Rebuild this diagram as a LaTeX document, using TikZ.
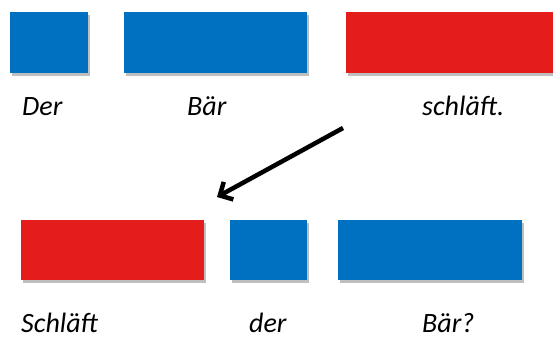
\documentclass[tikz,border=0pt]{standalone}
\usepackage{fontspec}
\setmainfont{Carlito}
\usetikzlibrary{arrows.meta, shadows}
\definecolor{wordblue}{HTML}{0070C0}
\definecolor{wordred}{HTML}{E41C1C}

\tikzset{
  wordbox/.style={draw=none, inner sep=0pt, anchor=north west,
    minimum height=61pt,
    drop shadow={shadow xshift=1.5pt, shadow yshift=-2.5pt, opacity=0.25, fill=black}},
  wordlabel/.style={inner sep=0pt, anchor=base west, font=\fontsize{28}{34}\selectfont\itshape}
}

\begin{document}
\begin{tikzpicture}[x=1pt, y=-1pt]

\useasboundingbox (0,0) rectangle (553,338);

%% Top row: statement
\node[wordbox, fill=wordblue, minimum width=78pt] (derTop) at (10,12) {};
\node[wordbox, fill=wordblue, minimum width=183pt] (baerTop) at (124,12) {};
\node[wordbox, fill=wordred, minimum width=207pt] (schlaeftTop) at (346,12) {};

\node[wordlabel] (derTopLabel) at (22,115) {Der};
\node[wordlabel] (baerTopLabel) at (187,115) {Bär};
\node[wordlabel] (schlaeftTopLabel) at (422,115) {schläft.};

% Moving the verb to the front
\coordinate (moveFrom) at (343,128);
\coordinate (moveTo) at (217,197);
\draw[line width=4.5pt, -{Straight Barb[length=10pt, width=20pt]},
  drop shadow={shadow xshift=1.5pt, shadow yshift=-2.5pt, opacity=0.2}]
  (moveFrom) -- (moveTo);

%% Bottom row: question
\node[wordbox, fill=wordred, minimum width=183pt, minimum height=60pt] (schlaeftBot) at (21,220) {};
\node[wordbox, fill=wordblue, minimum width=77pt, minimum height=60pt] (derBot) at (230,220) {};
\node[wordbox, fill=wordblue, minimum width=184pt, minimum height=60pt] (baerBot) at (338,220) {};

\node[wordlabel] (schlaeftBotLabel) at (21,332) {Schläft};
\node[wordlabel] (derBotLabel) at (249,332) {der};
\node[wordlabel] (baerBotLabel) at (422,332) {Bär?};

\end{tikzpicture}
\end{document}
